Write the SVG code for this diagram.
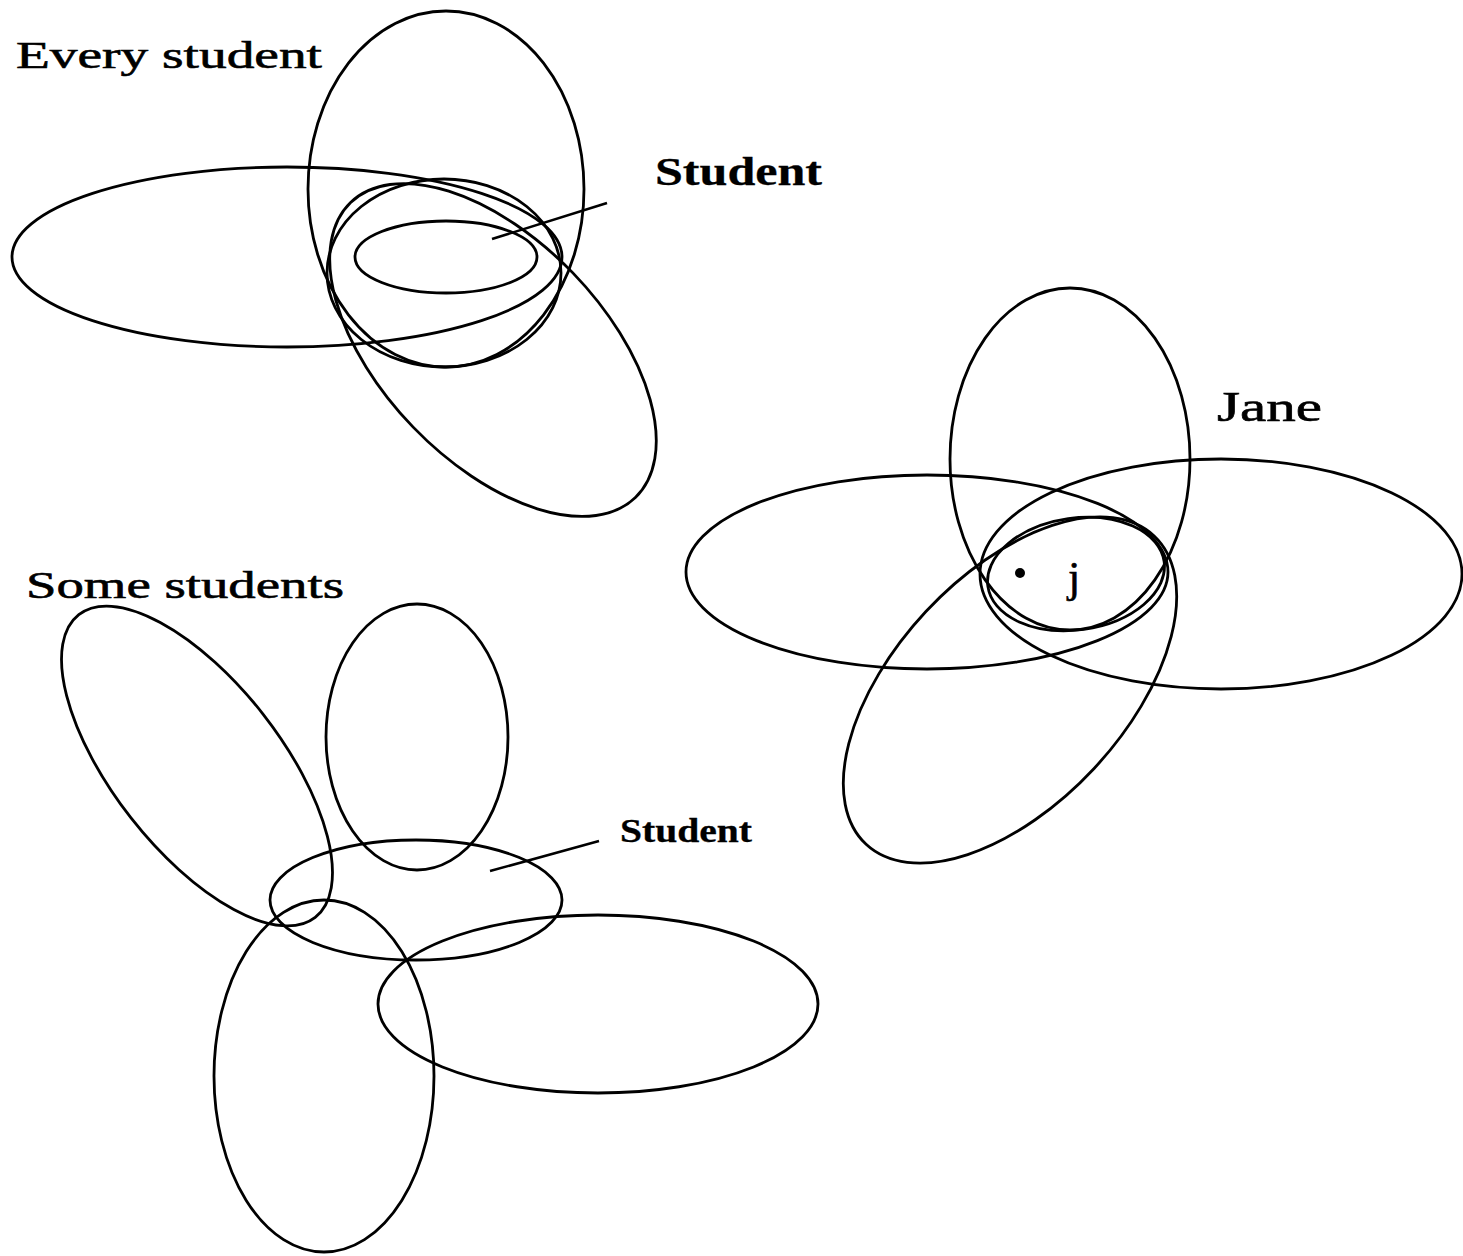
<svg xmlns="http://www.w3.org/2000/svg" width="1463" height="1256" viewBox="0 0 1463 1256">
<style>
.e{fill:none;stroke:#000;stroke-width:2.8}
.l{fill:none;stroke:#000;stroke-width:2.6}
.t{font-family:"Liberation Serif","Times New Roman",serif;fill:#000;stroke:#000;stroke-width:0.6}
.b{font-weight:bold;stroke-width:0.3}
</style>
<rect width="1463" height="1256" fill="#fff"/>
<g id="every-student">
<ellipse class="e" cx="446" cy="189" rx="138" ry="178"/>
<ellipse class="e" cx="287" cy="257" rx="275" ry="90"/>
<ellipse class="e" cx="493" cy="350" rx="205" ry="111" transform="rotate(46 493 350)"/>
<ellipse class="e" cx="444" cy="273" rx="117" ry="94"/>
<ellipse class="e" cx="446" cy="257" rx="91" ry="36"/>
<text class="t" x="16" y="68" font-size="37" textLength="306" lengthAdjust="spacingAndGlyphs">Every student</text>
<text class="t b" x="655" y="185" font-size="40" textLength="167" lengthAdjust="spacingAndGlyphs">Student</text>
</g>
<g id="jane">
<ellipse class="e" cx="1070" cy="459" rx="120" ry="171"/>
<ellipse class="e" cx="927" cy="572" rx="241" ry="97"/>
<ellipse class="e" cx="1221" cy="574" rx="241" ry="115"/>
<ellipse class="e" cx="1010" cy="690" rx="211" ry="115" transform="rotate(-47 1010 690)"/>
<ellipse class="e" cx="1076" cy="574" rx="89" ry="56" transform="rotate(-8 1076 574)"/>
<circle cx="1020" cy="573" r="5" fill="#000"/>
<text class="t" x="1068" y="592" font-size="44">j</text>
<text class="t" x="1217" y="421" font-size="42" textLength="105" lengthAdjust="spacingAndGlyphs">Jane</text>
</g>
<g id="some-students">
<ellipse class="e" cx="197" cy="766" rx="192" ry="84" transform="rotate(52 197 766)"/>
<ellipse class="e" cx="417" cy="737" rx="91" ry="133"/>
<ellipse class="e" cx="416" cy="900" rx="146" ry="60"/>
<ellipse class="e" cx="324" cy="1076" rx="110" ry="176"/>
<ellipse class="e" cx="598" cy="1004" rx="220" ry="89"/>
<text class="t" x="26" y="598" font-size="38" textLength="318" lengthAdjust="spacingAndGlyphs">Some students</text>
<text class="t b" x="620" y="842" font-size="34" textLength="132" lengthAdjust="spacingAndGlyphs">Student</text>
</g>
<g id="connectors">
<line class="l" x1="492" y1="239" x2="607" y2="203"/>
<line class="l" x1="490" y1="871" x2="599" y2="841"/>
</g>
</svg>
